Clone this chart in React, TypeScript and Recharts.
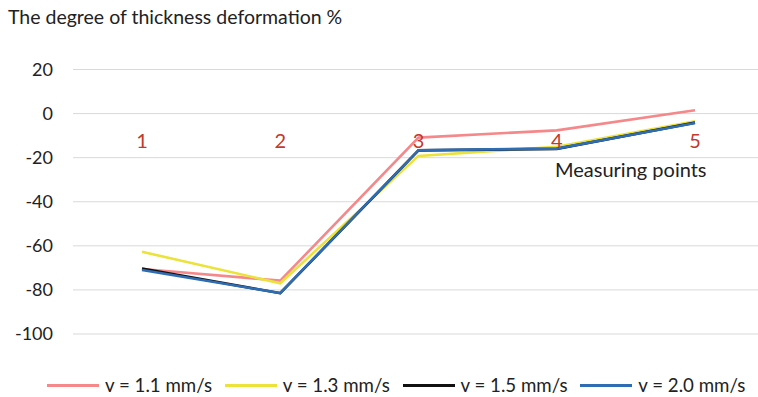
import { LineChart, Line, XAxis, YAxis, CartesianGrid, Legend } from 'recharts';

const points = ['1', '2', '3', '4', '5'];
const v11 = [-70.5, -75.8, -10.9, -7.6, 1.5];
const v13 = [-62.7, -77.0, -19.2, -15.1, -3.5];
const v15 = [-70.3, -81.5, -16.7, -16.0, -4.1];
const v20 = [-71.0, -81.4, -16.6, -15.9, -4.3];
const yTicks = [-100, -80, -60, -40, -20, 0, 20];

const series = [
  { key: 'v11', name: 'v = 1.1 mm/s', color: '#F4888A' },
  { key: 'v13', name: 'v = 1.3 mm/s', color: '#EBE23A' },
  { key: 'v15', name: 'v = 1.5 mm/s', color: '#111111' },
  { key: 'v20', name: 'v = 2.0 mm/s', color: '#2E6DB4' },
];

const data = points.map((p, i) => ({ point: p, v11: v11[i], v13: v13[i], v15: v15[i], v20: v20[i] }));

const FONT = 'Lato, sans-serif';

const PointTick = (props: any) => {
  const { x, y, payload } = props;
  return (
    <text x={x} y={y - 194} textAnchor="middle" fill="#C3392C" fontSize={20} fontFamily={FONT}>
      {payload.value}
    </text>
  );
};

function LegendBox() {
  return (
    <div style={{ display: 'flex', paddingLeft: 47, fontFamily: FONT, fontSize: 18.7, color: '#222', lineHeight: '24px' }}>
      {series.map((s) => (
        <div key={s.key} style={{ display: 'flex', alignItems: 'center', width: 179, whiteSpace: 'nowrap' }}>
          <span style={{ width: 52, height: 3, background: s.color, display: 'inline-block', marginRight: 6 }} />
          <span>{s.name}</span>
        </div>
      ))}
    </div>
  );
}

export default function App() {
  return (
    <div style={{ position: 'absolute', left: 0, top: 0, width: 758, height: 397, background: '#fff' }}>
      <LineChart width={758} height={397} data={data} margin={{ top: 69.5, right: 0, bottom: 38, left: 0 }}>
        <CartesianGrid vertical={false} stroke="#D9D9D9" strokeWidth={1} />
        <XAxis
          dataKey="point"
          height={1}
          axisLine={false}
          tickLine={false}
          padding={{ left: 69, right: 63 }}
          tick={PointTick}
        />
        <YAxis
          domain={[-100, 20]}
          ticks={yTicks}
          width={73}
          axisLine={false}
          tickLine={false}
          tickMargin={14}
          tick={{ fill: '#222', fontSize: 18, fontFamily: FONT }}
        />
        <Legend verticalAlign="bottom" content={<LegendBox />} wrapperStyle={{ bottom: 0 }} />
        {series.map((s) => (
          <Line
            key={s.key}
            dataKey={s.key}
            name={s.name}
            stroke={s.color}
            strokeWidth={2.6}
            dot={false}
            isAnimationActive={false}
          />
        ))}
      </LineChart>
      <div style={{ position: 'absolute', left: 8, top: 5, fontFamily: FONT, fontSize: 19.5, color: '#222' }}>
        The degree of thickness deformation %
      </div>
      <div style={{ position: 'absolute', left: 555, top: 157, fontFamily: FONT, fontSize: 20, color: '#222' }}>
        Measuring points
      </div>
    </div>
  );
}
